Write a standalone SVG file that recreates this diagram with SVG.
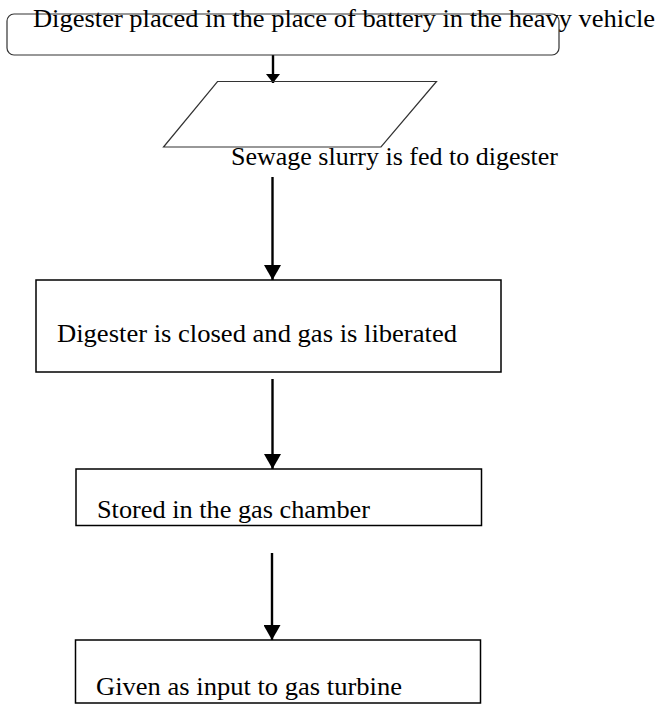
<svg xmlns="http://www.w3.org/2000/svg" width="662" height="704" viewBox="0 0 662 704">
<style>
  .box { fill: none; stroke: #000; stroke-width: 1.5; }
  .thin { fill: none; stroke: #333; stroke-width: 1.2; }
  .lbl { font-size: 25px; fill: #000; }
  .conn { stroke: #000; stroke-width: 2.4; fill: none; }
</style>
<defs>
  <marker id="head" viewBox="0 0 15 17" refX="15" refY="8.5" markerUnits="userSpaceOnUse" markerWidth="15" markerHeight="17" orient="auto">
    <path d="M0,0 L15,8.5 L0,17 z" fill="#000"/>
  </marker>
  <marker id="headSmall" viewBox="0 0 9 14" refX="9" refY="7" markerUnits="userSpaceOnUse" markerWidth="9" markerHeight="14" orient="auto">
    <path d="M0,0 L9,7 L0,14 z" fill="#000"/>
  </marker>
</defs>
<rect width="662" height="704" fill="#fff"/>

<g id="connectors">
  <line class="conn" x1="273" y1="55" x2="273" y2="83" marker-end="url(#headSmall)"/>
  <line class="conn" x1="272.5" y1="177" x2="272.5" y2="280" marker-end="url(#head)"/>
  <line class="conn" x1="272.5" y1="379" x2="272.5" y2="469" marker-end="url(#head)"/>
  <line class="conn" x1="272" y1="553" x2="272" y2="640" marker-end="url(#head)"/>
</g>

<g font-family="'Liberation Serif', 'Times New Roman', 'DejaVu Serif', serif">
<g id="node-start">
  <rect class="thin" x="7" y="14" width="552" height="41" rx="7" ry="7"/>
  <text class="lbl" x="33" y="27" textLength="622" lengthAdjust="spacingAndGlyphs">Digester placed in the place of battery in the heavy vehicle</text>
</g>

<g id="node-feed">
  <polygon class="thin" points="217.5,81.5 436.5,81.5 381,147 163.5,147"/>
  <text class="lbl" x="231" y="165" textLength="327" lengthAdjust="spacingAndGlyphs">Sewage slurry is fed to digester</text>
</g>

<g id="node-closed">
  <rect class="box" x="36" y="280" width="465" height="92"/>
  <text class="lbl" x="57" y="342" textLength="400" lengthAdjust="spacingAndGlyphs">Digester is closed and gas is liberated</text>
</g>

<g id="node-stored">
  <rect class="box" x="76" y="469" width="405.5" height="56.5"/>
  <text class="lbl" x="97" y="518" textLength="273" lengthAdjust="spacingAndGlyphs">Stored in the gas chamber</text>
</g>

<g id="node-turbine">
  <rect class="box" x="75.5" y="640" width="405" height="63"/>
  <text class="lbl" x="96" y="695" textLength="306" lengthAdjust="spacingAndGlyphs">Given as input to gas turbine</text>
</g>
</g>
</svg>
